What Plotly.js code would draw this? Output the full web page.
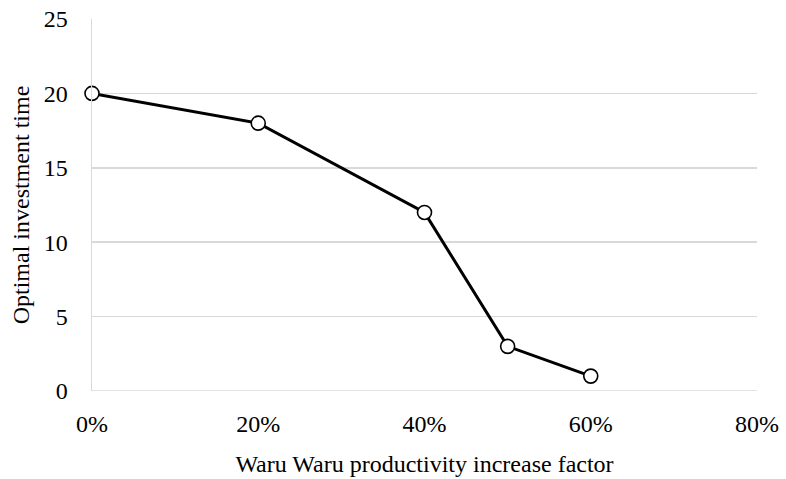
<!DOCTYPE html>
<html><head><meta charset="utf-8">
<script src="https://cdn.plot.ly/plotly-3.0.1.min.js"></script>
<style>html,body{margin:0;padding:0;background:#fff;}</style>
</head><body>
<div id="chart" style="width:786px;height:479px;"></div>
<script>
const xValues = [0, 0.2, 0.4, 0.5, 0.6];
const yValues = [20, 18, 12, 3, 1];
const xTicks = [0, 0.2, 0.4, 0.6, 0.8];
const xTickLabels = ['0%', '20%', '40%', '60%', '80%'];
const yTicks = [0, 5, 10, 15, 20, 25];

const font = {family: '"Liberation Serif", "Times New Roman", serif', size: 24, color: '#000'};

Plotly.newPlot('chart', [{
  x: xValues, y: yValues, type: 'scatter', mode: 'lines+markers',
  line: {color: '#000', width: 3},
  marker: {symbol: 'circle', size: 14, color: '#fff', line: {color: '#000', width: 1.6}},
  cliponaxis: false
}], {
  width: 786, height: 479,
  margin: {l: 92, r: 29, t: 19, b: 88},
  paper_bgcolor: '#fff', plot_bgcolor: '#fff',
  showlegend: false,
  font: font,
  xaxis: {
    range: [0, 0.8], tickvals: xTicks, ticktext: xTickLabels,
    showgrid: false, zeroline: false, showline: false, ticks: '',
    tickfont: font, ticklabelstandoff: 16,
    title: {text: 'Waru Waru productivity increase factor', font: font, standoff: 19}
  },
  yaxis: {
    range: [0, 25], tickvals: yTicks,
    showgrid: true, gridcolor: '#d9d9d9', gridwidth: 1.5,
    zeroline: false, showline: true, linecolor: '#d9d9d9', linewidth: 1.5, ticks: '',
    ticklen: 0, tickfont: font, ticklabelstandoff: 18,
    title: {text: 'Optimal investment time', font: font, standoff: 7}
  },
  shapes: [{type: 'line', xref: 'paper', yref: 'y', x0: 0, x1: 1, y0: 0, y1: 0, line: {color: '#d9d9d9', width: 1.5}, layer: 'below'}]
}, {displayModeBar: false, staticPlot: true});
</script>
</body></html>
